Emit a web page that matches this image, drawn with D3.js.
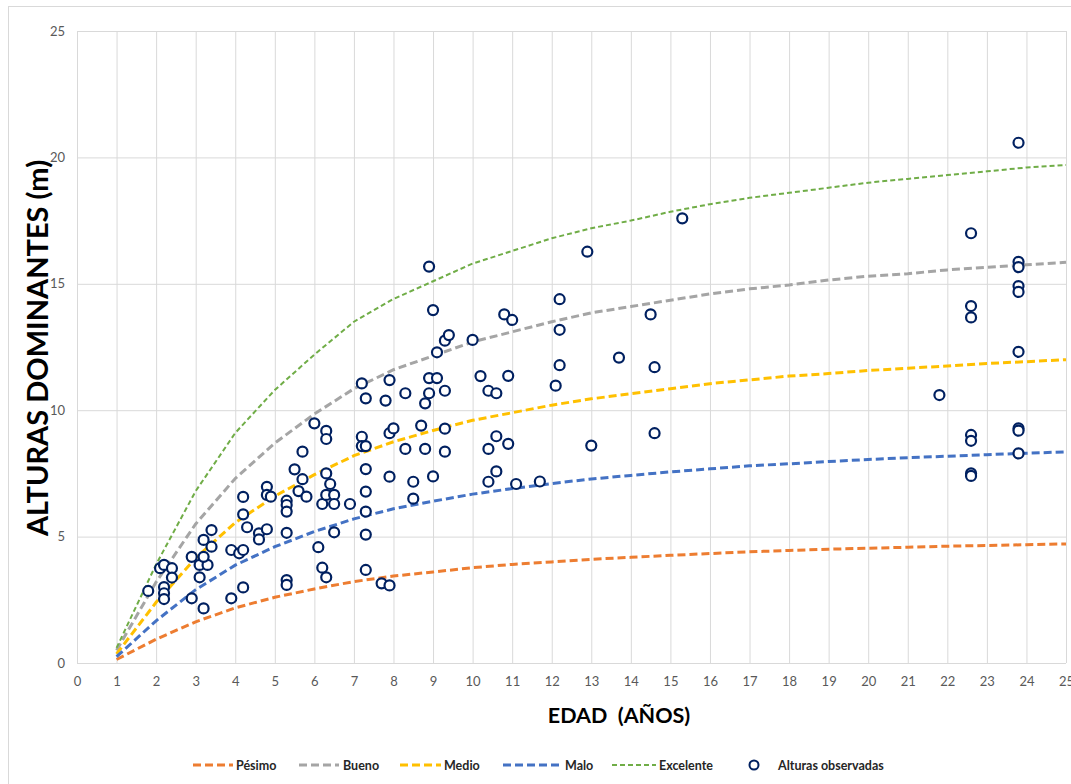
<!DOCTYPE html>
<html>
<head>
<meta charset="utf-8">
<script src="https://cdn.jsdelivr.net/npm/d3@7"></script>
<style>
  body { margin: 0; background: #fff; }
  text { font-family: Lato, "Liberation Sans", sans-serif; }
</style>
</head>
<body>
<script>
// curvas de índice de sitio (altura dominante por edad)
var edades = d3.range(1, 26);
var pesimo = [0.14, 0.94, 1.63, 2.18, 2.6, 2.93, 3.22, 3.44, 3.6, 3.77, 3.9, 4.0, 4.1, 4.18, 4.26, 4.33, 4.4, 4.45, 4.5, 4.54, 4.58, 4.62, 4.65, 4.68, 4.71];
var malo = [0.25, 1.67, 2.9, 3.87, 4.6, 5.2, 5.7, 6.1, 6.4, 6.68, 6.9, 7.1, 7.28, 7.42, 7.56, 7.68, 7.8, 7.88, 7.97, 8.05, 8.12, 8.18, 8.24, 8.3, 8.35];
var medio = [0.36, 2.4, 4.15, 5.55, 6.6, 7.45, 8.2, 8.75, 9.2, 9.6, 9.9, 10.2, 10.45, 10.65, 10.85, 11.05, 11.2, 11.35, 11.45, 11.57, 11.66, 11.75, 11.85, 11.92, 12.0];
var bueno = [0.5, 3.2, 5.5, 7.3, 8.7, 9.85, 10.85, 11.6, 12.15, 12.7, 13.1, 13.5, 13.85, 14.1, 14.35, 14.6, 14.8, 14.95, 15.15, 15.3, 15.4, 15.55, 15.65, 15.75, 15.85];
var excelente = [0.6, 3.9, 6.8, 9.1, 10.8, 12.2, 13.5, 14.4, 15.1, 15.8, 16.3, 16.8, 17.2, 17.5, 17.85, 18.15, 18.4, 18.6, 18.8, 19.0, 19.15, 19.3, 19.45, 19.6, 19.7];

// alturas observadas
var obsEdad = [1.8, 2.1, 2.2, 2.4, 2.4, 2.2, 2.2, 2.2, 2.9, 2.9, 3.1, 3.3, 3.1, 3.2, 3.2, 3.2, 3.4, 3.4, 3.9, 3.9,
  4.1, 4.2, 4.2, 4.2, 4.2, 4.3, 4.6, 4.6, 4.8, 4.8, 4.8, 4.9, 5.3, 5.3, 5.3, 5.3, 5.3, 5.3, 5.5, 5.6,
  5.7, 5.7, 5.8, 6.0, 6.1, 6.2, 6.2, 6.3, 6.3, 6.3, 6.3, 6.3, 6.4, 6.5, 6.5, 6.5, 6.9, 7.2, 7.2, 7.2,
  7.3, 7.3, 7.3, 7.3, 7.3, 7.3, 7.3, 7.7, 7.9, 7.8, 7.9, 7.9, 8.0, 7.9, 8.3, 8.3, 8.5, 8.5, 8.7, 8.8,
  8.8, 8.9, 8.9, 8.9, 9.0, 9.0, 9.1, 9.1, 9.3, 9.4, 9.3, 9.3, 9.3, 10.0, 10.2, 10.4, 10.6, 10.4, 10.6, 10.4,
  10.6, 10.8, 11.0, 10.9, 10.9, 11.1, 11.7, 12.1, 12.2, 12.2, 12.2, 12.9, 13.0, 13.7, 14.5, 14.6, 14.6, 15.3, 21.8, 22.6,
  22.6, 22.6, 22.6, 22.6, 22.6, 22.6, 23.8, 23.8, 23.8, 23.8, 23.8, 23.8, 23.8, 23.8, 23.8];
var obsAltura = [2.85, 3.75, 3.88, 3.75, 3.38, 3.0, 2.76, 2.53, 4.2, 2.56, 3.88, 3.88, 3.39, 4.2, 4.87, 2.16, 5.26, 4.6, 4.47, 2.56,
  4.34, 4.47, 2.99, 6.57, 5.88, 5.37, 5.13, 4.89, 5.29, 6.97, 6.65, 6.58, 6.42, 6.25, 5.99, 5.15, 3.28, 3.09, 7.66, 6.8,
  8.36, 7.27, 6.58, 9.48, 4.58, 6.29, 3.77, 3.39, 9.18, 8.86, 7.5, 6.65, 7.08, 6.65, 6.29, 5.17, 6.29, 11.06, 8.95, 8.58,
  8.58, 10.47, 7.67, 6.78, 5.99, 5.08, 3.68, 3.15, 3.07, 10.38, 11.19, 9.09, 9.28, 7.37, 10.67, 8.47, 7.17, 6.5, 9.39, 10.27,
  8.47, 15.68, 11.27, 10.67, 13.96, 7.38, 11.27, 12.29, 12.75, 12.97, 10.77, 9.27, 8.36, 12.78, 11.35, 10.77, 10.67, 8.47, 8.97, 7.17,
  7.58, 13.79, 13.57, 11.36, 8.67, 7.08, 7.18, 10.97, 14.39, 13.18, 11.78, 16.27, 8.6, 12.08, 13.79, 11.7, 9.09, 17.59, 10.6, 17.0,
  14.12, 13.67, 9.02, 8.79, 7.5, 7.4, 20.58, 15.87, 15.66, 14.91, 14.68, 12.31, 9.28, 9.19, 8.29];

var xTicks = d3.range(0, 26);
var yTicks = [0, 5, 10, 15, 20, 25];

var series = [
  { name: "Pésimo", values: pesimo, color: "#ED7D31", w: 3, dash: "8,4" },
  { name: "Bueno", values: bueno, color: "#A5A5A5", w: 3, dash: "8,4" },
  { name: "Medio", values: medio, color: "#FFC000", w: 3, dash: "8,4" },
  { name: "Malo", values: malo, color: "#4472C4", w: 3, dash: "8,4" },
  { name: "Excelente", values: excelente, color: "#70AD47", w: 2, dash: "5,3" }
];

var width = 1071,
  height = 784;

var svg = d3.select("body").append("svg")
  .attr("width", width)
  .attr("height", height);

// borde del área del gráfico
svg.append("rect")
  .attr("x", 8.5).attr("y", 6.5)
  .attr("width", 1100).attr("height", 800)
  .attr("fill", "none").attr("stroke", "#d9d9d9");

var x = d3.scaleLinear().domain([0, 25]).range([77, 1066]);
var y = d3.scaleLinear().domain([0, 25]).range([663, 31]);

var xAxis = svg.append("g")
  .attr("transform", "translate(0,663)")
  .call(d3.axisBottom(x).tickValues(xTicks).tickSize(-(663 - 31)).tickPadding(14));

var yAxis = svg.append("g")
  .attr("transform", "translate(77,0)")
  .call(d3.axisLeft(y).tickValues(yTicks).tickSize(-(1066 - 77)).tickPadding(12));

[xAxis, yAxis].forEach(g => {
  g.select(".domain").remove();
  g.selectAll("line").attr("stroke", "#d9d9d9");
  g.selectAll("text").attr("fill", "#595959").style("font-size", "13px")
    .style("font-family", "Lato, 'Liberation Sans', sans-serif");
});

// curvas
var line = d3.line()
  .x((d, i) => x(edades[i]))
  .y(d => y(d));

svg.append("g").selectAll("path")
  .data(series)
  .enter()
  .append("path")
  .attr("d", d => line(d.values))
  .attr("fill", "none")
  .attr("stroke", d => d.color)
  .attr("stroke-width", d => d.w)
  .attr("stroke-dasharray", d => d.dash);

// puntos observados
svg.append("g").selectAll("circle")
  .data(obsEdad)
  .enter()
  .append("circle")
  .attr("cx", d => x(d))
  .attr("cy", (d, i) => y(obsAltura[i]))
  .attr("r", 5)
  .attr("fill", "#fff")
  .attr("stroke", "#002060")
  .attr("stroke-width", 2.2);

// títulos de ejes
svg.append("text")
  .attr("x", 619).attr("y", 723)
  .attr("text-anchor", "middle")
  .attr("xml:space", "preserve")
  .style("font-size", "21.5px").style("font-weight", "bold")
  .attr("fill", "#000")
  .text("EDAD  (AÑOS)");

svg.append("text")
  .attr("transform", "translate(48,348) rotate(-90)")
  .attr("text-anchor", "middle")
  .style("font-size", "29px").style("font-weight", "bold")
  .attr("fill", "#000")
  .text("ALTURAS DOMINANTES (m)");

// leyenda
var legX = [[193, 233, 236], [299, 339, 343], [400, 441, 444], [503, 562, 565], [612, 656, 659]];
var leg = svg.append("g");
series.forEach((s, i) => {
  leg.append("line")
    .attr("x1", legX[i][0]).attr("x2", legX[i][1])
    .attr("y1", 765).attr("y2", 765)
    .attr("stroke", s.color).attr("stroke-width", s.w)
    .attr("stroke-dasharray", s.dash);
  leg.append("text")
    .attr("x", legX[i][2]).attr("y", 769.5)
    .style("font-size", "12.5px").style("font-weight", "bold")
    .attr("fill", "#262626")
    .text(s.name);
});
leg.append("circle")
  .attr("cx", 754).attr("cy", 765).attr("r", 4.5)
  .attr("fill", "#fff").attr("stroke", "#002060").attr("stroke-width", 2);
leg.append("text")
  .attr("x", 778).attr("y", 769.5)
  .style("font-size", "12.5px").style("font-weight", "bold")
  .attr("fill", "#262626")
  .text("Alturas observadas");
</script>
</body>
</html>
